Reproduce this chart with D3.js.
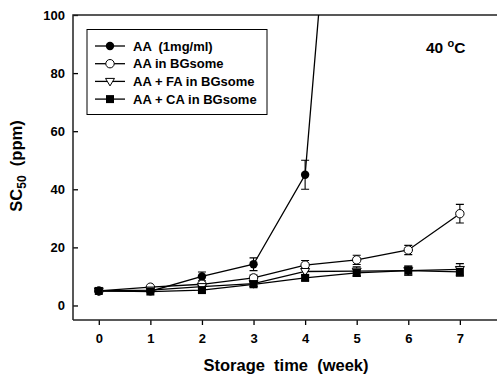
<!DOCTYPE html>
<html><head><meta charset="utf-8">
<script src="https://cdn.jsdelivr.net/npm/d3@7"></script>
<style>body{margin:0;background:#fff}svg{display:block}text{font-family:"Liberation Sans",Arial,sans-serif;font-weight:bold;fill:#000}</style>
</head><body><svg id="c" width="497" height="376"></svg>
<script>
const weeks = [0,1,2,3,4,5,6,7];
const seriesNames = ["AA  (1mg/ml)","AA in BGsome","AA + FA in BGsome","AA + CA in BGsome"];
const markers = ["filledCircle","openCircle","openTriangleDown","filledSquare"];
const aaValues = [5,4.9,10,14.2,45,256];
const aaErrors = [0.5,0.5,1.5,2.2,5,0];
const bgValues = [5,6.3,7.3,9.5,13.9,15.7,19.1,31.6];
const bgErrors = [0.3,0.5,0.8,1,1.6,1.6,1.6,3.2];
const faValues = [5,5.3,6.5,7.5,11.7,11.8,12.0,12.4];
const faErrors = [0.3,0.5,0.8,0.8,1.2,1.5,1.5,2];
const caValues = [5,4.8,5.3,7.3,9.5,11.2,12.0,11.6];
const caErrors = [0.3,0.5,0.8,0.8,1.0,1.2,1.6,1.5];
const yTicks = [0,20,40,60,80,100];
const xTicks = [0,1,2,3,4,5,6,7];

const series = [aaValues,bgValues,faValues,caValues].map((v,i)=>({
  name: seriesNames[i], marker: markers[i],
  pts: v.map((y,j)=>({x:weeks[j], y, e:[aaErrors,bgErrors,faErrors,caErrors][i][j]}))
}));

const svg = d3.select("#c");
const L=73, T=15, R=497, B=320;
const x = d3.scaleLinear().domain([-0.5,7.72]).range([L,R]);
const y = d3.scaleLinear().domain([-5,100]).range([B,T]);

svg.append("clipPath").attr("id","clip").append("rect").attr("x",L).attr("y",T).attr("width",R-L).attr("height",B-T);

// axes
const yAxis = d3.axisLeft(y).tickValues(yTicks).tickSize(-5).tickPadding(10);
const gy = svg.append("g").attr("transform",`translate(${L},0)`).call(yAxis);
gy.select(".domain").remove();
gy.selectAll("line").attr("stroke","#000").attr("stroke-width",1.3);
gy.selectAll("text").style("font-size","13px").attr("x",-8);

const xAxis = d3.axisBottom(x).tickValues(xTicks).tickSize(5).tickPadding(9);
const gx = svg.append("g").attr("transform",`translate(0,${B})`).call(xAxis);
gx.select(".domain").remove();
gx.selectAll("line").attr("stroke","#000").attr("stroke-width",1.3);
gx.selectAll("text").style("font-size","13px");

svg.append("path").attr("d",`M${L},${B}V${T}H${R}`).attr("fill","none").attr("stroke","#222").attr("stroke-width",1.5);
svg.append("line").attr("x1",L).attr("x2",R).attr("y1",B).attr("y2",B).attr("stroke","#222").attr("stroke-width",1.5);

// titles
svg.append("text").attr("x",286).attr("y",371).attr("text-anchor","middle").style("font-size","16.5px").attr("xml:space","preserve").text("Storage  time  (week)");
const yt = svg.append("text").attr("transform","translate(22,166) rotate(-90)").attr("text-anchor","middle").style("font-size","16.5px").attr("xml:space","preserve");
yt.append("tspan").text("SC");
yt.append("tspan").attr("dy",4).style("font-size","12px").text("50");
yt.append("tspan").attr("dy",-4).text("  (ppm)");

const tt = svg.append("text").attr("x",426).attr("y",53).style("font-size","15.5px").attr("xml:space","preserve");
tt.append("tspan").text("40 ");
tt.append("tspan").attr("dy",-6).style("font-size","11px").text("o");
tt.append("tspan").attr("dy",6).text("C");

// marker drawer
function drawMarker(g, type, cx, cy){
  if(type==="filledCircle") g.append("circle").attr("cx",cx).attr("cy",cy).attr("r",4.2).attr("fill","#000");
  else if(type==="openCircle") g.append("circle").attr("cx",cx).attr("cy",cy).attr("r",4.2).attr("fill","#fff").attr("stroke","#000").attr("stroke-width",1);
  else if(type==="openTriangleDown") g.append("path").attr("d",`M${cx-4.5},${cy-3}L${cx+4.5},${cy-3}L${cx},${cy+4.5}Z`).attr("fill","#fff").attr("stroke","#000").attr("stroke-width",1);
  else g.append("rect").attr("x",cx-4).attr("y",cy-4).attr("width",8).attr("height",8).attr("fill","#000");
}

const plot = svg.append("g").attr("clip-path","url(#clip)");
const line = d3.line().x(d=>x(d.x)).y(d=>y(d.y));
series.forEach(s=>{
  plot.append("path").datum(s.pts).attr("d",line).attr("fill","none").attr("stroke","#000").attr("stroke-width",1.3);
});
series.forEach(s=>{
  s.pts.forEach(p=>{
    if(p.e>0.6){
      const cx=x(p.x);
      plot.append("path").attr("d",`M${cx},${y(p.y-p.e)}V${y(p.y+p.e)}M${cx-4},${y(p.y-p.e)}H${cx+4}M${cx-4},${y(p.y+p.e)}H${cx+4}`).attr("stroke","#000").attr("stroke-width",1.1).attr("fill","none");
    }
  });
});
series.forEach(s=>{
  s.pts.forEach(p=>drawMarker(plot,s.marker,x(p.x),y(p.y)));
});

// legend
const lg = svg.append("g");
lg.append("rect").attr("x",87).attr("y",29.5).attr("width",180).attr("height",85).attr("fill","#fff").attr("stroke","#000").attr("stroke-width",1);
series.forEach((s,i)=>{
  const ly = 46 + i*17.7;
  lg.append("line").attr("x1",95).attr("x2",125).attr("y1",ly).attr("y2",ly).attr("stroke","#000").attr("stroke-width",1.3);
  drawMarker(lg,s.marker,110,ly);
  lg.append("text").attr("x",133).attr("y",ly+4.7).style("font-size","13px").attr("xml:space","preserve").text(s.name);
});
</script></body></html>
